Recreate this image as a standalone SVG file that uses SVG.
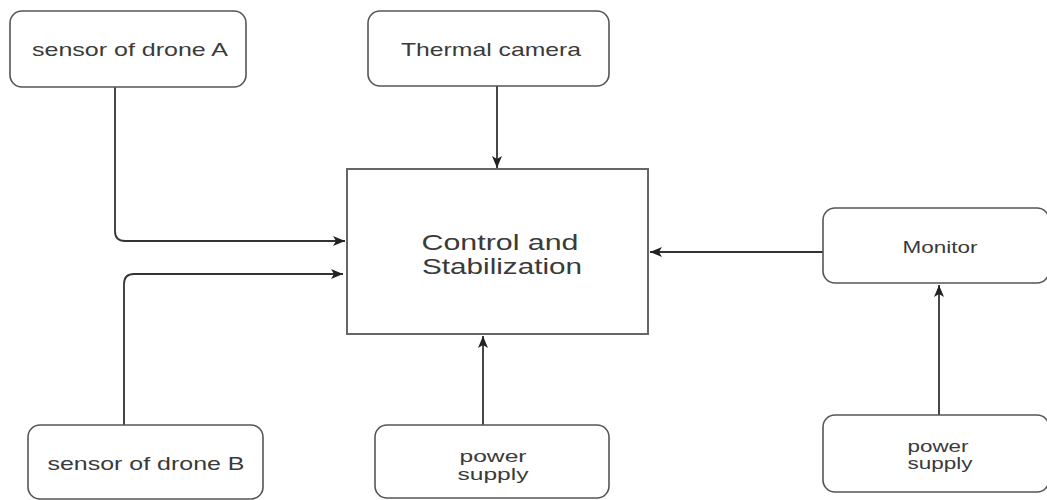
<svg xmlns="http://www.w3.org/2000/svg" width="1047" height="500" viewBox="0 0 1047 500">
<style>
.box{fill:#fff;stroke:#555;stroke-width:1.6}
.main{fill:#fff;stroke:#666;stroke-width:2}
.t{font-family:"Liberation Sans",Arial,sans-serif;fill:#3a3a3a;text-anchor:middle}
.s{font-size:19px}
.m{font-size:16px}
.c{font-size:22px}
.ln{fill:none;stroke:#333;stroke-width:1.8}
</style>
<defs>
<marker id="ah" viewBox="0 0 12 10" refX="12" refY="5" markerWidth="12" markerHeight="10" markerUnits="userSpaceOnUse" orient="auto">
<path d="M0,0 L12,5 L0,10 L3,5 Z" fill="#222"/>
</marker>
</defs>
<rect width="1047" height="500" fill="#fff"/>
<g id="connectors">
<path class="ln" d="M115,87 V231 Q115,241 125,241 H345" marker-end="url(#ah)"/>
<path class="ln" d="M124,425 V284 Q124,274 134,274 H343" marker-end="url(#ah)"/>
<path class="ln" d="M497,86 V168" marker-end="url(#ah)"/>
<path class="ln" d="M483,425 V336" marker-end="url(#ah)"/>
<path class="ln" d="M823,252 H650" marker-end="url(#ah)"/>
<path class="ln" d="M939,415 V285" marker-end="url(#ah)"/>
</g>
<g id="sensorA">
<rect class="box" x="10" y="11" width="236" height="76" rx="12"/>
<text class="t s" x="130" y="56" textLength="196" lengthAdjust="spacingAndGlyphs">sensor of drone A</text>
</g>
<g id="thermal">
<rect class="box" x="368" y="11" width="241" height="75" rx="12"/>
<text class="t s" x="491" y="56" textLength="180" lengthAdjust="spacingAndGlyphs">Thermal camera</text>
</g>
<g id="control">
<rect class="main" x="347" y="169" width="301" height="165"/>
<text class="t c" x="500" y="250" textLength="157" lengthAdjust="spacingAndGlyphs">Control and</text>
<text class="t c" x="502" y="274" textLength="160" lengthAdjust="spacingAndGlyphs">Stabilization</text>
</g>
<g id="monitor">
<rect class="box" x="823" y="208" width="226" height="75" rx="12"/>
<text class="t m" x="940" y="253" textLength="75" lengthAdjust="spacingAndGlyphs">Monitor</text>
</g>
<g id="sensorB">
<rect class="box" x="28" y="425" width="235" height="74" rx="12"/>
<text class="t s" x="146" y="470" textLength="197" lengthAdjust="spacingAndGlyphs">sensor of drone B</text>
</g>
<g id="power1">
<rect class="box" x="375" y="425" width="234" height="73" rx="12"/>
<text class="t m" x="493" y="462" textLength="67" lengthAdjust="spacingAndGlyphs">power</text>
<text class="t m" x="493" y="480" textLength="71" lengthAdjust="spacingAndGlyphs">supply</text>
</g>
<g id="power2">
<rect class="box" x="823" y="415" width="226" height="77" rx="12"/>
<text class="t m" x="938" y="452" textLength="61" lengthAdjust="spacingAndGlyphs">power</text>
<text class="t m" x="940" y="469" textLength="65" lengthAdjust="spacingAndGlyphs">supply</text>
</g>
</svg>
